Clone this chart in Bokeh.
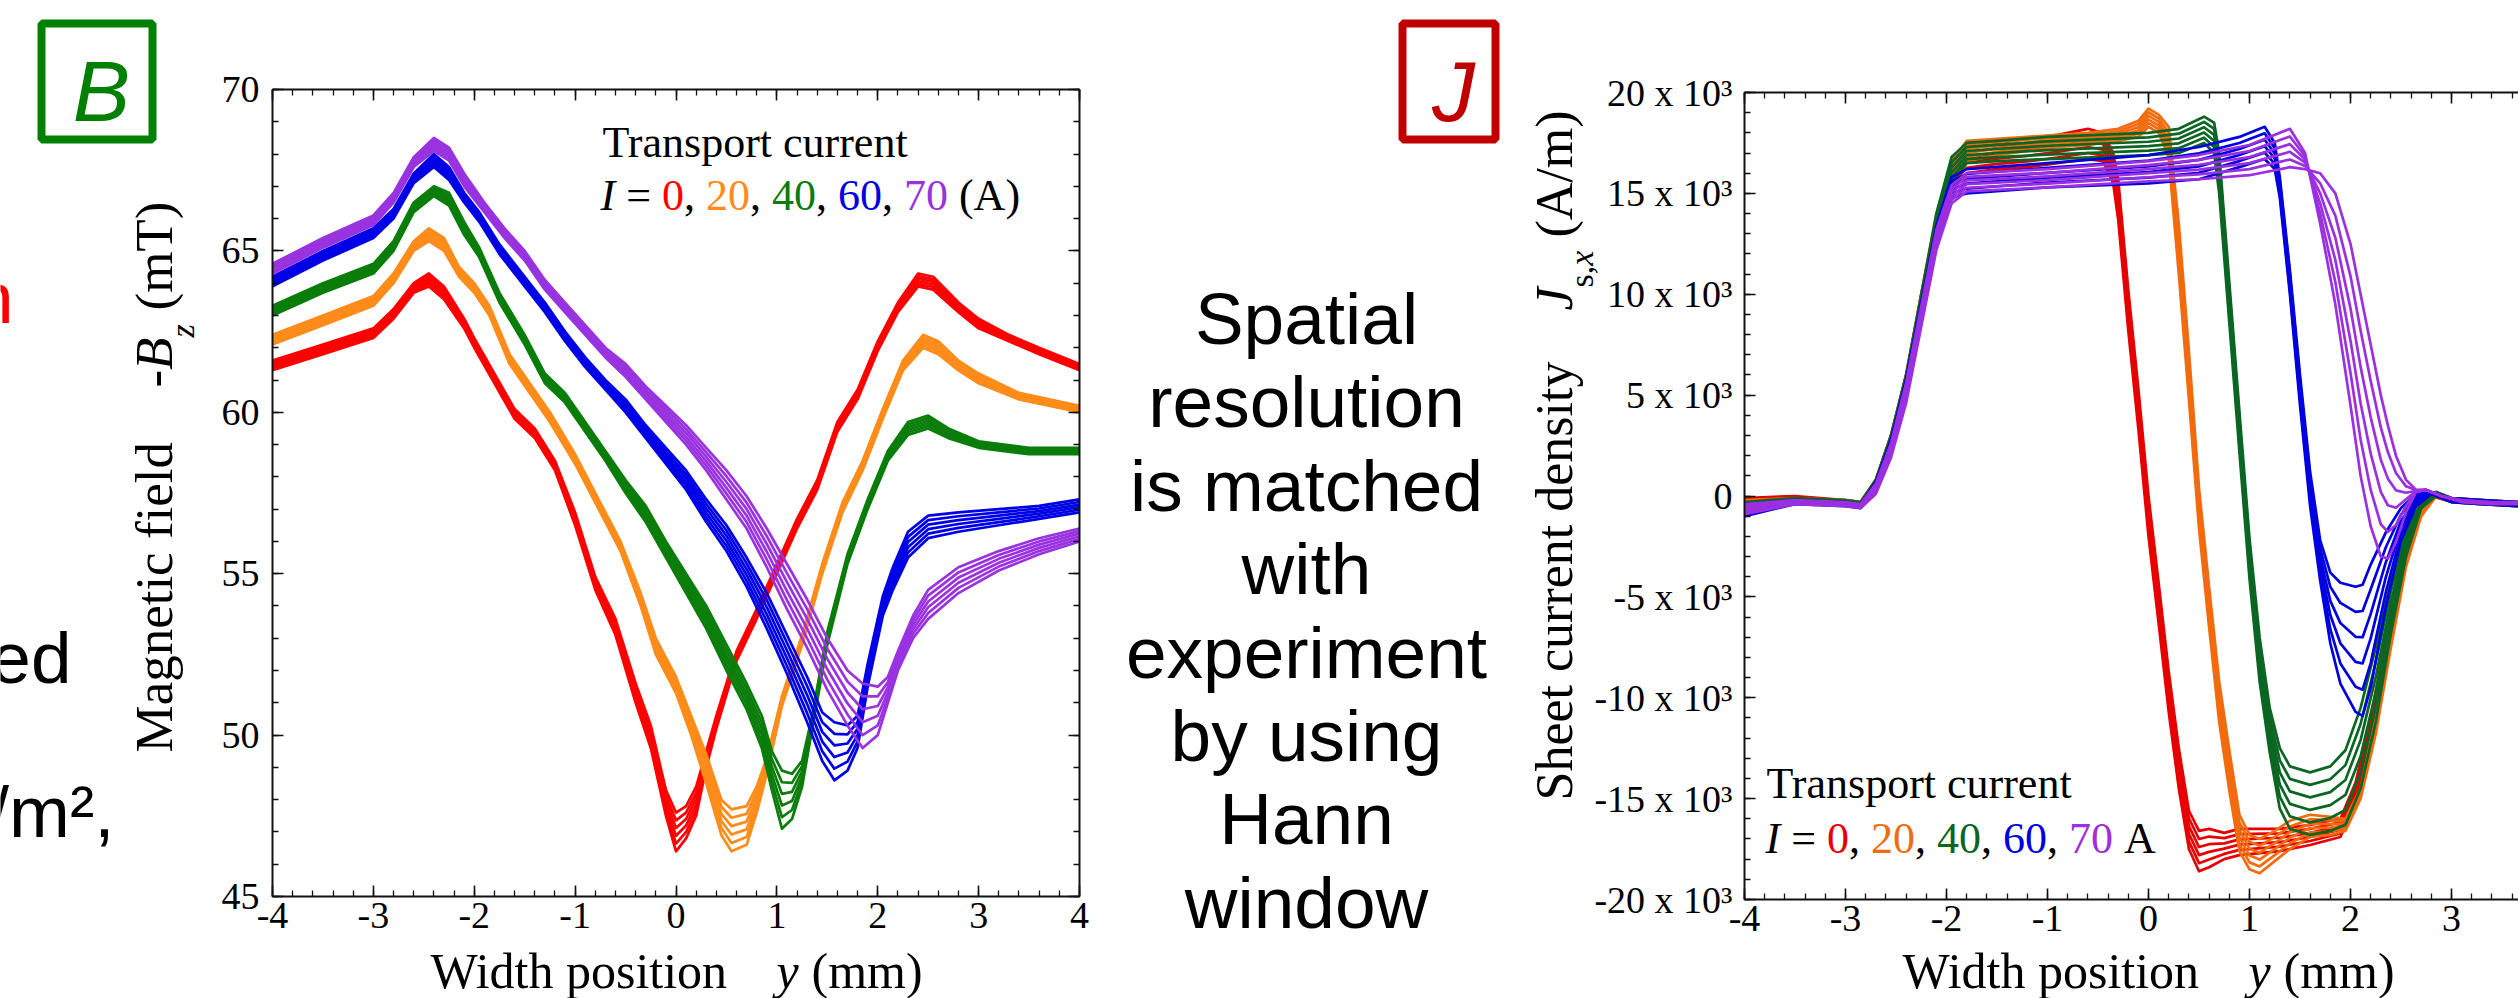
import math
from bokeh.plotting import figure
from bokeh.models import Range1d, FixedTicker, LinearAxis
from bokeh.core.properties import value
from bokeh.embed import file_html
from bokeh.resources import INLINE

# ---------------- data ----------------
current_labels = ["0", "20", "40", "60", "70"]
colors_b = ["#ff0000", "#ff8c1a", "#0a7d0a", "#0000e6", "#9933e0"]
colors_j = ["#e60000", "#f26b0f", "#0b6623", "#0000e0", "#9b30e0"]

# Left panel: -Bz (mT) vs y (mm); lower and upper line of each bundle
bz0_x = [-4.0,-3.5,-3.0,-2.8,-2.6,-2.45,-2.3,-2.1,-2.0,-1.8,-1.6,-1.4,-1.2,-1.0,-0.8,-0.6,-0.4,-0.25,-0.1,0.0,0.1,0.2,0.3,0.4,0.6,0.8,1.0,1.2,1.4,1.6,1.8,2.0,2.2,2.4,2.55,2.8,3.0,3.3,3.6,4.0]
bz0_lo = [61.3,61.8,62.3,62.9,63.7,63.9,63.5,62.6,62.0,60.9,59.8,59.2,58.2,56.5,54.5,53.1,51.0,49.6,47.5,46.4,46.8,47.5,49.0,50.2,52.3,53.6,55.0,56.4,57.6,59.4,60.4,61.9,63.1,63.9,63.8,63.1,62.6,62.2,61.8,61.3]
bz0_hi = [61.6,62.1,62.6,63.2,64.0,64.3,63.9,62.9,62.3,61.2,60.1,59.5,58.5,56.9,54.9,53.6,51.6,50.3,48.3,47.6,47.8,48.4,49.5,50.6,52.6,53.9,55.3,56.7,57.9,59.7,60.7,62.2,63.4,64.3,64.2,63.4,62.9,62.4,62.0,61.5]

bz1_x = [-4.0,-3.5,-3.0,-2.8,-2.6,-2.45,-2.3,-2.15,-2.0,-1.85,-1.65,-1.45,-1.25,-1.0,-0.8,-0.55,-0.35,-0.2,0.0,0.15,0.3,0.45,0.55,0.7,0.8,0.9,1.05,1.25,1.45,1.65,1.85,2.05,2.25,2.45,2.6,2.8,3.0,3.4,4.0]
bz1_lo = [62.1,62.7,63.3,64.0,65.0,65.3,65.0,64.2,63.7,63.0,61.5,60.6,59.7,58.4,57.2,55.7,54.0,52.5,51.3,50.0,48.5,46.9,46.4,46.6,47.6,48.8,50.9,52.8,55.0,56.9,58.2,59.8,61.3,62.0,61.8,61.3,60.9,60.4,60.0]
bz1_hi = [62.4,63.0,63.6,64.3,65.3,65.7,65.4,64.5,64.0,63.3,61.8,60.9,60.0,58.7,57.5,56.0,54.4,53.0,51.8,50.6,49.4,48.0,47.7,47.8,48.4,49.3,51.2,53.1,55.3,57.2,58.5,60.1,61.6,62.4,62.2,61.6,61.2,60.6,60.2]

bz2_x = [-4.0,-3.5,-3.0,-2.8,-2.6,-2.4,-2.25,-2.1,-1.95,-1.75,-1.5,-1.3,-1.1,-0.9,-0.7,-0.5,-0.3,-0.1,0.1,0.3,0.5,0.7,0.85,0.95,1.05,1.15,1.25,1.35,1.5,1.7,1.9,2.1,2.3,2.5,2.7,3.0,3.5,4.0]
bz2_lo = [63.0,63.7,64.3,65.0,66.2,66.7,66.4,65.5,64.8,63.4,62.1,60.9,60.3,59.4,58.5,57.5,56.6,55.5,54.4,53.3,52.0,50.8,49.6,48.3,47.1,47.4,48.4,50.2,52.8,55.3,57.0,58.5,59.3,59.5,59.2,58.9,58.7,58.7]
bz2_hi = [63.3,64.0,64.6,65.3,66.5,67.0,66.8,65.9,65.1,63.7,62.4,61.2,60.6,59.7,58.8,57.9,57.1,56.0,55.0,54.0,52.8,51.6,50.6,49.5,48.9,48.8,49.2,50.6,53.2,55.6,57.3,58.8,59.7,59.9,59.5,59.1,58.9,58.9]

bz3_x = [-4.0,-3.5,-3.0,-2.8,-2.6,-2.4,-2.25,-2.1,-1.95,-1.75,-1.5,-1.3,-1.1,-0.9,-0.7,-0.5,-0.3,-0.1,0.1,0.3,0.5,0.7,0.9,1.1,1.3,1.45,1.57,1.7,1.8,1.9,2.05,2.15,2.3,2.5,2.8,3.2,3.6,4.0]
bz3_lo = [63.9,64.7,65.4,66.0,67.1,67.6,67.2,66.5,65.9,64.9,63.9,63.1,62.2,61.4,60.7,60.0,59.2,58.4,57.6,56.6,55.7,54.6,53.3,51.9,50.4,49.2,48.6,48.9,49.6,51.5,53.7,54.5,55.5,56.1,56.3,56.5,56.7,56.9]
bz3_hi = [64.2,65.0,65.7,66.3,67.4,68.0,67.6,66.8,66.2,65.2,64.2,63.4,62.5,61.7,61.0,60.4,59.6,58.9,58.2,57.3,56.5,55.5,54.4,53.1,51.8,50.7,50.4,50.3,50.6,52.2,54.3,55.2,56.3,56.8,56.9,57.0,57.1,57.3]

bz4_x = [-4.0,-3.5,-3.0,-2.8,-2.6,-2.4,-2.25,-2.1,-1.9,-1.7,-1.5,-1.3,-1.1,-0.9,-0.7,-0.5,-0.3,-0.1,0.1,0.3,0.5,0.7,0.9,1.1,1.3,1.5,1.7,1.85,2.0,2.1,2.2,2.35,2.5,2.8,3.2,3.6,4.0]
bz4_lo = [64.3,65.1,65.8,66.5,67.6,68.1,67.8,67.0,66.2,65.4,64.7,63.8,63.1,62.4,61.7,61.1,60.4,59.7,59.0,58.2,57.3,56.4,55.2,53.9,52.7,51.4,50.3,49.6,50.0,51.0,52.0,53.0,53.6,54.4,55.1,55.6,56.0]
bz4_hi = [64.6,65.4,66.1,66.8,67.9,68.5,68.2,67.4,66.5,65.7,65.0,64.1,63.4,62.7,62.0,61.5,60.8,60.2,59.6,58.9,58.2,57.4,56.4,55.3,54.2,53.0,52.0,51.6,51.5,51.8,52.6,53.7,54.5,55.2,55.7,56.1,56.4]

# Right panel: Js,x (10^3 A/m) vs y (mm); two outer lines of each bundle
js0_x = [-4.0,-3.5,-3.0,-2.85,-2.7,-2.55,-2.4,-2.25,-2.1,-1.95,-1.8,-1.5,-1.2,-0.9,-0.6,-0.45,-0.35,-0.3,-0.2,-0.1,0.0,0.1,0.2,0.3,0.4,0.5,0.6,0.75,0.9,1.3,1.6,1.9,2.05,2.2,2.35,2.5,2.65,2.8,3.0,3.3,3.66]
js0_a = [-0.1,0.0,-0.2,-0.3,0.8,3.0,6.0,10.0,13.8,16.3,17.3,17.5,17.7,17.9,18.2,18.0,17.0,15.7,10.2,5.3,0.0,-4.3,-8.7,-12.5,-15.6,-16.6,-16.5,-16.7,-16.5,-16.5,-16.3,-16.0,-14.2,-11.0,-7.0,-3.5,-1.0,0.2,-0.1,-0.2,-0.3]
js0_b = [-0.8,-0.3,-0.4,-0.5,0.3,2.2,5.0,9.0,12.8,15.3,16.0,16.2,16.3,16.5,16.7,16.6,15.5,13.7,8.2,3.3,-2.0,-6.3,-10.7,-14.5,-17.5,-18.6,-18.4,-18.0,-17.8,-17.6,-17.3,-16.9,-15.2,-12.0,-8.0,-4.2,-1.5,0.0,-0.3,-0.4,-0.5]

js1_x = [-4.0,-3.5,-3.0,-2.85,-2.7,-2.55,-2.4,-2.25,-2.1,-1.95,-1.8,-1.5,-1.2,-0.9,-0.6,-0.3,-0.1,0.0,0.1,0.2,0.3,0.4,0.5,0.6,0.7,0.8,0.9,1.0,1.1,1.25,1.4,1.6,1.8,1.95,2.1,2.25,2.4,2.55,2.7,2.85,3.0,3.3,3.66]
js1_a = [-0.2,-0.1,-0.2,-0.3,0.8,3.0,6.0,10.0,14.0,16.6,17.6,17.7,17.8,17.9,18.0,18.2,18.6,19.2,18.9,18.3,13.5,7.2,0.4,-4.5,-9.2,-12.6,-15.8,-16.8,-17.0,-16.6,-16.1,-15.8,-15.9,-16.0,-14.5,-11.0,-6.8,-3.0,-0.5,0.2,-0.1,-0.2,-0.3]
js1_b = [-0.6,-0.3,-0.3,-0.5,0.3,2.2,5.0,9.0,12.8,15.5,16.6,16.9,17.1,17.3,17.4,17.6,17.8,18.3,18.0,16.8,11.0,4.8,-1.6,-6.5,-11.2,-14.6,-17.6,-18.5,-18.7,-18.1,-17.5,-16.9,-16.8,-16.6,-15.0,-11.8,-7.5,-3.5,-1.0,0.0,-0.3,-0.4,-0.5]

js2_x = [-4.0,-3.5,-3.0,-2.85,-2.7,-2.55,-2.4,-2.25,-2.1,-1.95,-1.8,-1.5,-1.0,-0.5,0.0,0.3,0.55,0.65,0.7,0.8,0.9,1.0,1.1,1.2,1.3,1.4,1.6,1.8,1.95,2.1,2.25,2.4,2.55,2.7,2.85,3.0,3.3,3.66]
js2_a = [-0.3,-0.1,-0.2,-0.3,0.8,3.0,6.0,10.0,14.0,16.8,17.5,17.6,17.8,17.9,18.0,18.2,18.8,18.5,17.0,10.6,4.2,-2.1,-7.0,-10.5,-12.5,-13.4,-13.7,-13.4,-12.6,-10.5,-7.5,-4.2,-1.8,-0.3,0.2,-0.1,-0.2,-0.3]
js2_b = [-0.7,-0.3,-0.4,-0.5,0.3,2.2,5.0,9.0,12.8,15.5,16.5,16.6,16.7,16.8,16.9,17.0,17.5,17.0,15.0,8.6,2.2,-4.1,-9.2,-12.7,-15.5,-16.5,-16.8,-16.6,-16.3,-14.5,-11.2,-6.8,-3.0,-0.6,0.0,-0.3,-0.4,-0.5]

js3_x = [-4.0,-3.5,-3.0,-2.85,-2.7,-2.55,-2.4,-2.25,-2.1,-1.95,-1.8,-1.0,0.0,0.5,0.9,1.15,1.25,1.3,1.4,1.5,1.6,1.7,1.8,1.9,2.05,2.12,2.2,2.35,2.5,2.65,2.8,3.0,3.3,3.66]
js3_a = [-0.4,-0.2,-0.3,-0.4,0.7,2.8,5.8,9.6,13.4,15.8,16.2,16.5,16.9,17.3,17.8,18.3,17.5,15.8,11.2,6.0,1.2,-2.2,-3.8,-4.3,-4.5,-4.4,-3.4,-1.8,-0.6,0.1,0.2,-0.1,-0.2,-0.3]
js3_b = [-1.0,-0.4,-0.5,-0.6,0.2,2.0,4.8,8.6,12.4,14.8,15.0,15.3,15.5,15.7,16.3,16.7,16.2,14.8,10.0,4.5,-0.5,-4.2,-7.3,-9.3,-10.7,-10.9,-9.5,-5.5,-2.2,-0.5,0.1,-0.3,-0.4,-0.5]

js4_x = [-4.0,-3.5,-3.0,-2.85,-2.7,-2.55,-2.4,-2.25,-2.1,-1.95,-1.8,-1.0,0.0,0.5,1.0,1.4,1.55,1.7,1.85,2.0,2.1,2.2,2.3,2.37,2.45,2.55,2.65,2.75,2.9,3.1,3.4,3.66]
js4_a = [-0.4,-0.2,-0.3,-0.4,0.6,2.6,5.6,9.4,13.2,15.4,16.0,16.2,16.6,16.9,17.4,18.2,17.0,13.5,9.5,4.5,1.0,-1.5,-3.0,-3.1,-2.3,-0.8,0.2,0.3,0.0,-0.2,-0.3,-0.3]
js4_b = [-0.9,-0.4,-0.5,-0.6,0.1,1.9,4.6,8.4,12.2,14.5,15.1,15.3,15.6,15.7,15.9,16.3,16.2,16.0,15.0,12.5,10.0,7.5,5.0,3.5,2.0,0.8,0.3,0.3,0.0,-0.3,-0.4,-0.4]

bz_x = [bz0_x, bz1_x, bz2_x, bz3_x, bz4_x]
bz_lo = [bz0_lo, bz1_lo, bz2_lo, bz3_lo, bz4_lo]
bz_hi = [bz0_hi, bz1_hi, bz2_hi, bz3_hi, bz4_hi]
js_x = [js0_x, js1_x, js2_x, js3_x, js4_x]
js_a = [js0_a, js1_a, js2_a, js3_a, js4_a]
js_b = [js0_b, js1_b, js2_b, js3_b, js4_b]

bz_ticks = [45, 50, 55, 60, 65, 70]
js_ticks = [-20, -15, -10, -5, 0, 5, 10, 15, 20]
js_tick_labels = ["-20 x 10³", "-15 x 10³", "-10 x 10³", "-5 x 10³", "0",
                  "5 x 10³", "10 x 10³", "15 x 10³", "20 x 10³"]
y_ticks = [-4, -3, -2, -1, 0, 1, 2, 3, 4]
y_tick_labels = ["-4", "-3", "-2", "-1", "0", "1", "2", "3", "4"]

middle_lines = ["Spatial", "resolution", "is matched", "with",
                "experiment", "by using", "Hann", "window"]

# ---------------- page geometry (pixels) ----------------
W, H = 2518, 998
N_LINES = 6
SERIF = "Liberation Serif"
SANS = "Liberation Sans"
INK = "#111111"
MID = 0.34          # distance of the em-box middle above the baseline, in em

BL, BR, BT, BB = 272, 1079, 89, 896
JL, JT, JB, J_PX_PER_MM = 1744, 92, 899, 101.0

bx_per = (BR - BL) / 8.0
by_per = (BB - BT) / 25.0
jy_per = (JB - JT) / 40.0

p = figure(width=W, height=H,
           x_range=Range1d(-4 - BL / bx_per, 4 + (W - BR) / bx_per),
           y_range=Range1d(45 - (H - BB) / by_per, 70 + BT / by_per),
           x_axis_type=None, y_axis_type=None, min_border=0,
           outline_line_color=None, output_backend="svg", toolbar_location=None,
           background_fill_color="white", border_fill_color="white")
p.extra_x_ranges = {"jx": Range1d(-4 - JL / J_PX_PER_MM, -4 + (W - JL) / J_PX_PER_MM),
                    "px": Range1d(0, W)}
p.extra_y_ranges = {"jy": Range1d(-20 - (H - JB) / jy_per, 20 + JT / jy_per),
                    "px": Range1d(0, H)}
J_XEND = -4 + (W - JL) / J_PX_PER_MM


def add_axis(side, fixed, bounds, ticks, minor, labels=None, standoff=10,
             xr="default", yr="default"):
    ax = LinearAxis(fixed_location=fixed, bounds=bounds,
                    ticker=FixedTicker(ticks=ticks, minor_ticks=minor),
                    x_range_name=xr, y_range_name=yr)
    ax.axis_line_color = INK
    ax.axis_line_width = 2
    ax.major_tick_in = 11
    ax.major_tick_out = 0
    ax.major_tick_line_width = 1.6
    ax.major_tick_line_color = INK
    ax.minor_tick_in = 6
    ax.minor_tick_out = 0
    ax.minor_tick_line_width = 1.3
    ax.minor_tick_line_color = INK
    ax.major_label_text_font = SERIF
    ax.major_label_text_font_size = "38px"
    if labels is None:
        ax.major_label_text_color = None
        ax.major_label_standoff = 0
    else:
        ax.major_label_text_color = "black"
        ax.major_label_standoff = standoff
        ax.major_label_overrides = {t: s for t, s in zip(ticks, labels)}
    p.add_layout(ax, side)
    return ax


def txt(cx, cy, text, size, color="black", style="normal", font=SERIF,
        align="left", angle=0.0):
    """(cx, cy): pixel position of the text baseline start (top-left origin)."""
    if angle:
        cx = cx - MID * size      # rotated 90 deg: "up" of the glyphs points to -x
    else:
        cy = cy - MID * size
    p.text(x=[cx], y=[H - cy], text=[text], x_range_name="px", y_range_name="px",
           text_font=value(font), text_font_size=f"{size}px", text_color=color,
           text_font_style=style, text_align=align, text_baseline="middle", angle=angle)


def pieces_row(x0, cy, pieces, size):
    x = x0
    for text, color, style, adv in pieces:
        if text:
            txt(x, cy, text, size, color=color, style=style)
        x += adv * size


def legend_pieces(colors, unit_text, unit_adv):
    pcs = [("I", "black", "italic", 0.333), ("", None, None, 0.25),
           ("=", "black", "normal", 0.564), ("", None, None, 0.25)]
    for i, (t, c) in enumerate(zip(current_labels, colors)):
        pcs.append((t, c, "normal", 0.5 * len(t)))
        if i < len(current_labels) - 1:
            pcs.append((",", "black", "normal", 0.25))
            pcs.append(("", None, None, 0.25))
    pcs.append(("", None, None, 0.25))
    pcs.append((unit_text, "black", "normal", unit_adv))
    return pcs


minor_y = [round(-4 + 0.2 * i, 2) for i in range(41)]
minor_y_cut = [m for m in minor_y if m < J_XEND]

# ---------------- left panel: magnetic field ----------------
add_axis("below", 45, (-4, 4), y_ticks, minor_y, labels=y_tick_labels, standoff=6)
add_axis("above", 70, (-4, 4), y_ticks, minor_y)
add_axis("left", -4, (45, 70), bz_ticks, list(range(45, 71)),
         labels=[str(t) for t in bz_ticks], standoff=13)
add_axis("right", 4, (45, 70), bz_ticks, list(range(45, 71)))

for g in range(5):
    xs, ys = [], []
    for k in range(N_LINES):
        f = k / (N_LINES - 1)
        xs.append(bz_x[g])
        ys.append([lo + f * (hi - lo) for lo, hi in zip(bz_lo[g], bz_hi[g])])
    p.multi_line(xs, ys, line_color=colors_b[g], line_width=2.7, line_join="round")

txt(602, 157, "Transport current", 44)
pieces_row(600, 210, legend_pieces(colors_b, "(A)", 1.388), 44)
txt(430, 987, "Width position", 50)
txt(776, 987, "y", 50, style="italic")
txt(811, 987, "(mm)", 50)

# y-axis title of left panel (rotated, reading upwards); baseline at x = 172
ys0 = 752.0
txt(172, ys0, "Magnetic field", 53, angle=math.pi / 2)
txt(172, ys0 - 365.0, "-", 53, angle=math.pi / 2)
txt(172, ys0 - 382.6, "B", 53, style="italic", angle=math.pi / 2)
txt(194, ys0 - 415.0, "z", 34, style="italic", angle=math.pi / 2)
txt(172, ys0 - 442.0, "(mT)", 53, angle=math.pi / 2)

# ---------------- right panel: sheet current density ----------------
add_axis("below", -20, (-4, J_XEND), y_ticks[:-1], minor_y_cut,
         labels=y_tick_labels[:-1], standoff=6, xr="jx", yr="jy")
add_axis("above", 20, (-4, J_XEND), y_ticks[:-1], minor_y_cut, xr="jx", yr="jy")
add_axis("left", -4, (-20, 20), js_ticks, list(range(-20, 21)),
         labels=js_tick_labels, standoff=12, xr="jx", yr="jy")

for g in range(5):
    xs, ys = [], []
    for k in range(N_LINES):
        f = k / (N_LINES - 1)
        xs.append(js_x[g])
        ys.append([a + f * (b - a) for a, b in zip(js_a[g], js_b[g])])
    p.multi_line(xs, ys, line_color=colors_j[g], line_width=2.7, line_join="round",
                 x_range_name="jx", y_range_name="jy")

txt(1766, 798, "Transport current", 44)
pieces_row(1765, 853, legend_pieces(colors_j, "A", 0.722), 44)
txt(1902, 987, "Width position", 50)
txt(2248, 987, "y", 50, style="italic")
txt(2283, 987, "(mm)", 50)

# y-axis title of right panel; baseline at x = 1572
ys3 = 800.0
txt(1572, ys3, "Sheet current density", 52, angle=math.pi / 2)
txt(1572, ys3 - 490.0, "J", 52, style="italic", angle=math.pi / 2)
txt(1593, ys3 - 513.1, "s,", 34, angle=math.pi / 2)
txt(1593, ys3 - 534.8, "x", 34, style="italic", angle=math.pi / 2)
txt(1572, ys3 - 562.9, "(A/m)", 52, angle=math.pi / 2)

# ---------------- slide texts, B and J boxes ----------------
txt(13, 322, "n", 73, color="#ff0000", font=SANS, align="right")
txt(71, 682, "ed", 73, font=SANS, align="right")
txt(114, 836, "/m²,", 73, font=SANS, align="right")

for i, line in enumerate(middle_lines):
    p.text(x=[1306], y=[H - (318 + 83.4 * i)], text=[line], x_range_name="px",
           y_range_name="px", text_font=value(SANS), text_font_size="73px",
           text_color="black", text_align="center", text_baseline="middle")

p.rect(x=[96.5], y=[H - 81], width=111, height=116, fill_color=None,
       line_color="#008000", line_width=8, x_range_name="px", y_range_name="px")
p.text(x=[101], y=[H - 90], text=["B"], x_range_name="px", y_range_name="px",
       text_font=value(SANS), text_font_size="86px", text_font_style="italic",
       text_color="#008000", text_align="center", text_baseline="middle")
p.rect(x=[1448.5], y=[H - 81], width=93, height=116, fill_color=None,
       line_color="#c00000", line_width=8, x_range_name="px", y_range_name="px")
p.text(x=[1453], y=[H - 90], text=["J"], x_range_name="px", y_range_name="px",
       text_font=value(SANS), text_font_size="86px", text_font_style="italic",
       text_color="#c00000", text_align="center", text_baseline="middle")

open("out.html", "w").write(file_html(p, INLINE))
